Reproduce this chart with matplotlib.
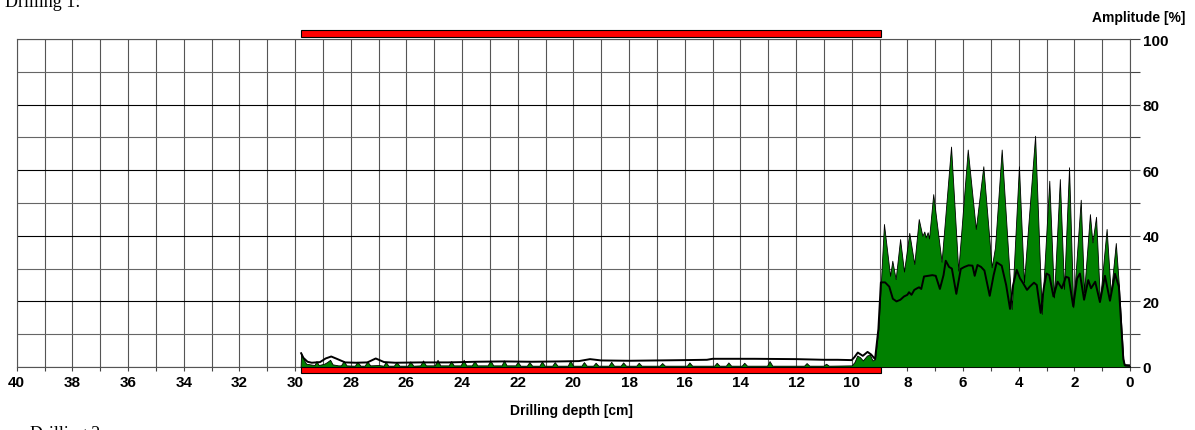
import numpy as np
import matplotlib
matplotlib.use('Agg')
import matplotlib.pyplot as plt
from matplotlib.patches import Rectangle

# 振幅曲线 (深度 cm, 振幅 %)
fill_depth = [29.80, 29.78, 29.70, 29.60, 29.45, 29.30, 29.23, 29.15, 28.95, 28.85, 28.74, 28.65,
              28.45, 28.35, 28.25, 28.15, 27.90, 27.85, 27.76, 27.65, 27.50, 27.40, 27.30, 27.00,
              26.82, 26.74, 26.65, 26.45, 26.35, 26.25, 25.95, 25.86, 25.75, 25.50, 25.40, 25.30,
              24.98, 24.88, 24.78, 24.48, 24.39, 24.30, 24.05, 23.94, 23.85, 23.65, 23.55, 23.45,
              23.08, 22.98, 22.88, 22.58, 22.49, 22.40, 22.08, 22.00, 21.90, 21.67, 21.58, 21.48,
              21.22, 21.13, 21.03, 20.76, 20.67, 20.57, 20.20, 20.11, 20.01, 19.71, 19.62, 19.52,
              19.29, 19.20, 19.10, 18.73, 18.64, 18.54, 18.30, 18.21, 18.11, 17.74, 17.65, 17.55,
              16.90, 16.81, 16.71, 15.92, 15.83, 15.73, 14.94, 14.85, 14.75, 14.52, 14.43, 14.33,
              13.95, 13.86, 13.76, 13.04, 12.95, 12.85, 11.71, 11.62, 11.52, 11.01, 10.92, 10.82,
              10.00, 9.90, 9.80, 9.70, 9.60, 9.45, 9.35, 9.25, 9.16, 9.04, 8.95,
              8.84, 8.62, 8.54, 8.42, 8.26, 8.12, 7.93, 7.75, 7.59, 7.46, 7.39, 7.34, 7.27, 7.22,
              7.07, 6.77, 6.43, 6.17, 5.83, 5.54, 5.27, 4.97, 4.85, 4.61, 4.25, 3.99, 3.81, 3.41,
              3.17, 2.90, 2.73, 2.52, 2.37, 2.19, 2.04, 1.77, 1.65, 1.44, 1.35, 1.22, 1.08, 0.84,
              0.69, 0.51, 0.40, 0.24, 0.19, 0.00]
fill_amp = [0.0, 4.2, 2.5, 1.0, 0.8, 0.6, 1.8, 0.6, 1.0, 1.5, 2.2, 0.8,
            0.5, 0.5, 1.8, 0.5, 0.4, 0.4, 1.6, 0.4, 0.4, 1.7, 0.5, 0.6,
            0.4, 1.6, 0.4, 0.4, 1.5, 0.4, 0.4, 1.7, 0.4, 0.5, 2.0, 0.5,
            0.5, 2.2, 0.5, 0.5, 1.8, 0.5, 0.5, 2.2, 0.5, 0.5, 1.8, 0.5,
            0.5, 2.0, 0.5, 0.5, 2.0, 0.5, 0.5, 1.6, 0.4, 0.4, 1.5, 0.4,
            0.4, 1.7, 0.4, 0.4, 1.5, 0.4, 0.4, 2.0, 0.4, 0.4, 1.5, 0.4,
            0.4, 1.3, 0.4, 0.4, 1.6, 0.4, 0.4, 1.4, 0.4, 0.4, 1.3, 0.4,
            0.4, 1.2, 0.4, 0.4, 1.4, 0.4, 0.4, 1.3, 0.4, 0.4, 1.4, 0.4,
            0.4, 1.3, 0.4, 0.4, 1.8, 0.4, 0.4, 1.2, 0.4, 0.4, 1.0, 0.4,
            0.5, 1.5, 3.5, 3.0, 2.0, 3.5, 3.8, 2.0, 2.4, 11.6, 25.8,
            43.6, 27.8, 32.4, 26.8, 39.0, 29.1, 40.9, 31.4, 45.1, 40.0, 41.3, 39.5, 41.1, 39.2,
            52.7, 32.1, 67.2, 29.4, 66.3, 42.1, 61.2, 30.4, 36.5, 66.3, 17.7, 61.2, 25.8, 70.5,
            16.2, 56.8, 21.2, 57.3, 23.8, 60.9, 18.2, 51.0, 22.8, 46.6, 38.0, 45.8, 20.2, 42.1,
            22.3, 37.8, 25.0, 2.4, 0.4, 0.3]

# 平均线
mean_depth = [29.78, 29.70, 29.55, 29.40, 29.10, 28.90, 28.70, 28.50, 28.20, 27.80, 27.40, 27.10,
              26.80, 26.40, 25.50, 24.50, 23.50, 22.50, 21.50, 20.50, 19.80, 19.40, 19.00, 18.00,
              17.00, 16.00, 15.20, 15.00, 13.50, 12.00, 11.00, 10.50, 10.00, 9.90, 9.78, 9.60,
              9.43, 9.30, 9.16, 9.04,
              8.95, 8.80, 8.65, 8.52, 8.39, 8.25, 8.12, 8.00, 7.94, 7.85, 7.75, 7.65, 7.58, 7.50,
              7.40, 7.25, 7.10, 6.98, 6.83, 6.70, 6.62, 6.50, 6.40, 6.24, 6.08, 5.95, 5.80, 5.66,
              5.58, 5.48, 5.35, 5.23, 5.04, 4.90, 4.79, 4.61, 4.45, 4.31, 4.20, 4.07, 3.95, 3.85,
              3.70, 3.60, 3.45, 3.35, 3.21, 3.10, 3.00, 2.90, 2.75, 2.60, 2.45, 2.30, 2.20, 2.04,
              1.90, 1.80, 1.65, 1.50, 1.40, 1.25, 1.08, 0.90, 0.72, 0.54, 0.40, 0.24, 0.19, 0.00]
mean_amp = [4.2, 2.8, 1.6, 1.3, 1.5, 2.6, 3.2, 2.5, 1.4, 1.3, 1.4, 2.6,
            1.5, 1.3, 1.4, 1.4, 1.6, 1.7, 1.6, 1.7, 1.8, 2.4, 2.0, 1.9,
            2.0, 2.1, 2.2, 2.5, 2.5, 2.4, 2.2, 2.2, 2.1, 3.0, 4.4, 3.4,
            4.6, 3.8, 2.4, 11.6,
            25.8, 25.8, 24.5, 20.8, 20.0, 20.5, 21.5, 22.0, 22.8, 22.0, 23.5, 24.0, 24.3, 23.8,
            27.6, 27.8, 28.0, 27.8, 23.8, 28.0, 32.4, 30.5, 30.0, 22.3, 29.9, 30.5, 31.0, 30.9,
            27.8, 31.1, 30.5, 29.4, 21.7, 28.0, 31.9, 30.9, 25.0, 17.7, 25.0, 29.6, 27.0, 25.7,
            23.5, 24.5, 25.7, 25.0, 16.5, 24.0, 28.5, 28.0, 21.5, 26.0, 24.0, 27.5, 27.2, 18.5,
            27.0, 28.5, 20.5, 26.5, 24.0, 26.0, 19.8, 27.8, 20.2, 28.4, 24.5, 2.4, 0.6, 0.5]

# 红色条 (深度范围)
bar_start, bar_end = 29.8, 8.95

x_ticks = list(range(0, 41, 2))
y_ticks = list(range(0, 101, 20))

fig = plt.figure(figsize=(11.95, 4.31), dpi=100)
ax = fig.add_axes([16.7 / 1195, 1 - 368 / 431, (1130 - 16.7) / 1195, 328 / 431])

ax.fill_between(fill_depth, fill_amp, 0, facecolor='#008000', edgecolor='black', linewidth=0.6, zorder=3)
ax.plot(mean_depth, mean_amp, color='black', linewidth=1.4, zorder=4)

ax.set_xlim(40, 0)
ax.set_ylim(0, 100)

ax.set_xticks(x_ticks)
ax.set_xticks(range(0, 41, 1), minor=True)
ax.set_yticks(y_ticks)
ax.set_yticks(range(0, 101, 10), minor=True)
ax.yaxis.tick_right()

ax.tick_params(axis='x', which='both', direction='out', length=3, width=0.8, color='#444444',
               pad=3, labelsize=11)
ax.tick_params(axis='y', which='both', direction='out', length=7, width=0.8, color='#444444',
               pad=2, labelsize=11, left=False, right=True)
for lab in ax.get_xticklabels() + ax.get_yticklabels():
    lab.set_fontweight('bold')
    lab.set_family('Liberation Sans')

ax.set_axisbelow(True)
ax.grid(which='both', axis='x', color='#555555', linewidth=0.8)
ax.grid(which='major', axis='y', color='black', linewidth=0.8)
ax.grid(which='minor', axis='y', color='#666666', linewidth=0.8)
for sp in ax.spines.values():
    sp.set_color('#555555')
    sp.set_linewidth(0.8)

# 上下红条
ax.add_patch(Rectangle((bar_end, 100.6), bar_start - bar_end, 2.2, facecolor='#ff0000',
                       edgecolor='black', linewidth=0.8, clip_on=False, zorder=5))
ax.add_patch(Rectangle((bar_end, -1.9), bar_start - bar_end, 1.9, facecolor='#ff0000',
                       edgecolor='black', linewidth=0.8, clip_on=False, zorder=5))

fig.text(1185 / 1195, 1 - 18 / 431, 'Amplitude [%]', ha='right', va='center',
         fontsize=10, fontweight='bold', family='Liberation Sans')
fig.text(571 / 1195, 1 - 411 / 431, 'Drilling depth [cm]', ha='center', va='center',
         fontsize=10, fontweight='bold', family='Liberation Sans')
fig.text(5 / 1195, 1 - 7 / 431, 'Drilling 1:', ha='left', va='baseline',
         fontsize=13, family='Liberation Serif')
fig.text(30 / 1195, 1 - 439 / 431, 'Drilling 2:', ha='left', va='baseline',
         fontsize=13, family='Liberation Serif')

fig.savefig('out.png', dpi=100)
